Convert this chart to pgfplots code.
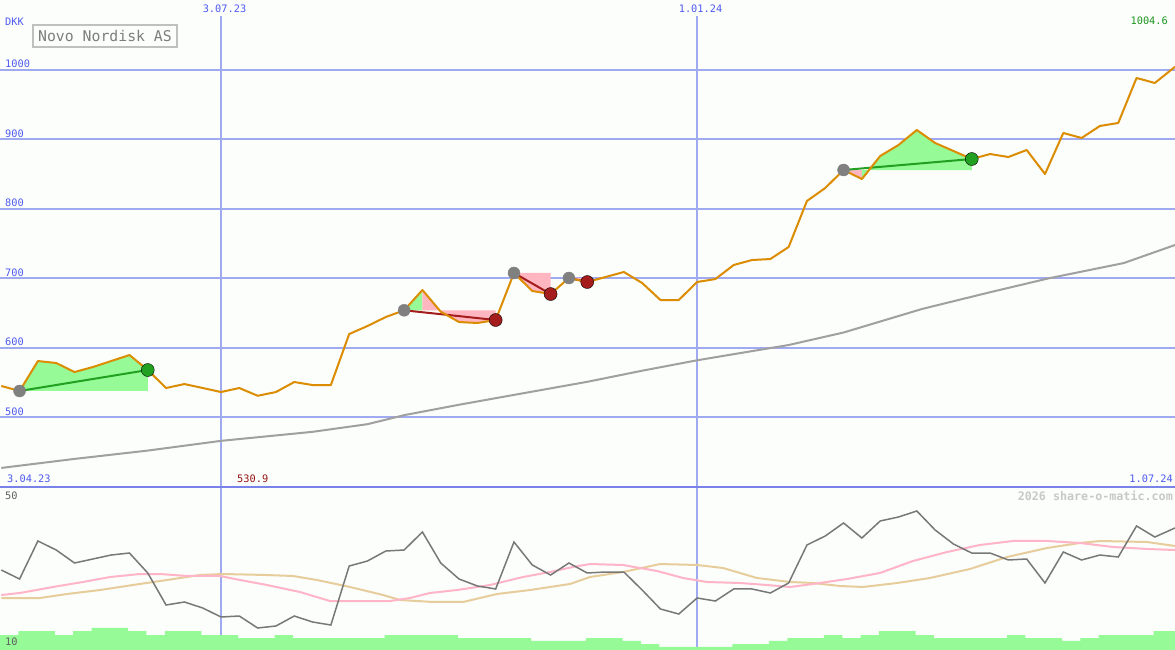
\documentclass[border=0pt]{standalone}
\usepackage{fontspec}
\usepackage{pgfplots}
\pgfplotsset{compat=1.18}
\setmainfont{DejaVu Sans Mono}
\newfontfamily\mono{DejaVu Sans Mono}
\definecolor{bg}{RGB}{251,254,251}
\definecolor{gridb}{RGB}{160,170,240}
\definecolor{sepb}{RGB}{120,130,232}
\definecolor{lblb}{RGB}{80,90,240}
\definecolor{pricec}{RGB}{220,140,0}
\definecolor{mac}{RGB}{160,160,160}
\definecolor{fgreen}{RGB}{150,250,150}
\definecolor{fpink}{RGB}{255,182,193}
\definecolor{lgreen}{RGB}{34,160,34}
\definecolor{lred}{RGB}{165,28,28}
\definecolor{dgray}{RGB}{128,128,128}
\definecolor{oscc}{RGB}{120,120,120}
\definecolor{opink}{RGB}{255,180,200}
\definecolor{otan}{RGB}{230,205,155}
\definecolor{wm}{RGB}{200,200,200}
\definecolor{boxg}{RGB}{192,192,192}
\definecolor{ttlg}{RGB}{125,125,125}
\definecolor{valg}{RGB}{30,150,30}
\definecolor{minr}{RGB}{150,20,20}
\definecolor{lowg}{RGB}{95,95,95}
\pgfplotsset{panel/.style={scale only axis, width=1175pt, xmin=-0.07, xmax=64.1,
  axis line style={draw=none}, xtick=\empty, major tick length=0pt,
  yticklabels={}, clip=true, anchor=south west}}
\begin{document}
\begin{tikzpicture}
\fill[bg] (0pt,0pt) rectangle (1175pt,650pt);
% ---------------- upper panel ----------------
\begin{axis}[panel, at={(0pt,163pt)}, height=487pt, ymin=399.56, ymax=1100.8,
  ytick={500,600,700,800,900,1000}, ymajorgrids, major grid style={gridb, line width=2pt}]
\draw[gridb, line width=1.2pt] (axis cs:12,399.56) -- (axis cs:12,1077.8);
\draw[gridb, line width=1.2pt] (axis cs:38,399.56) -- (axis cs:38,1077.8);
% moving average
\addplot[mac, line width=2pt] coordinates {
(0,427) (4,440) (8,452) (12,466) (17,479) (20,490) (22,503) (25,518) (28.6,535)
(32,551) (35,567) (38,582) (43,604) (46,622) (50.3,656) (54,680) (57.2,700) (61.3,722) (64.1,748)};
% trade fills
\addplot[fill=fgreen, draw=none] coordinates {(1,537.8) (2,580.9) (3,578.1) (4,565.1) (5,572.3) (6,580.9) (7,589.6) (8,568.0) (8,537.8)} --cycle;
\addplot[fill=fgreen, draw=none] coordinates {(22,654.0) (23,683.2) (23,654.0)} --cycle;
\addplot[fill=fpink, draw=none] coordinates {(23,654.0) (23,683.2) (24,652.0) (25,637.1) (26,635.7) (27,640.0) (27,654.0)} --cycle;
\addplot[fill=fpink, draw=none] coordinates {(28,707.7) (29,681.8) (30,677.4) (30,707.7)} --cycle;
\addplot[fill=fpink, draw=none] coordinates {(31,700.5) (32,694.7) (32,700.5)} --cycle;
\addplot[fill=fpink, draw=none] coordinates {(46,856.0) (47,843.0) (47,856.0)} --cycle;
\addplot[fill=fgreen, draw=none] coordinates {(47,856.0) (47,843.0) (48,876.2) (49,892.0) (50,913.6) (51,894.9) (52,883.4) (53,871.8) (53,856.0)} --cycle;
% trade lines
\addplot[lgreen, line width=2pt] coordinates {(1,537.8) (8,568.0)};
\addplot[lred, line width=2pt] coordinates {(22,654.0) (27,640.0)};
\addplot[lred, line width=2pt] coordinates {(28,707.7) (30,677.4)};
\addplot[lred, line width=2pt] coordinates {(31,700.5) (32,694.7)};
\addplot[lgreen, line width=2pt] coordinates {(46,856.0) (53,871.8)};
% dots
\addplot[only marks, mark=*, mark size=6pt, dgray, mark options={draw=none, fill=dgray}] coordinates {(1,537.8) (22,654.0) (28,707.7) (31,700.5) (46,856.0)};
\addplot[only marks, mark=*, mark size=6.5pt, mark options={draw=none, fill=lgreen}] coordinates {(8,568.0) (53,871.8)};
\addplot[only marks, mark=*, mark size=6.5pt, mark options={draw=none, fill=lred}] coordinates {(27,640.0) (30,677.4) (32,694.7)};
% price
\addplot[pricec, line width=2pt, line join=round] coordinates {
(0,545.0) (1,537.8) (2,580.9) (3,578.1) (4,565.1) (5,572.3) (6,580.9) (7,589.6) (8,568.0) (9,542.1)
(10,547.8) (11,542.1) (12,536.3) (13,542.1) (14,530.9) (15,536.3) (16,550.7) (17,546.4) (18,546.4) (19,619.8)
(20,631.4) (21,644.3) (22,654.0) (23,683.2) (24,652.0) (25,637.1) (26,635.7) (27,640.0) (28,707.7) (29,681.8)
(30,677.4) (31,700.5) (32,694.7) (33,701.9) (34,709.1) (35,693.3) (36,668.8) (37,668.8) (38,694.7) (39,699.0)
(40,719.2) (41,726.4) (42,727.8) (43,745.1) (44,811.4) (45,830.1) (46,856.0) (47,843.0) (48,876.2) (49,892.0)
(50,913.6) (51,894.9) (52,883.4) (53,871.8) (54,879.0) (55,874.7) (56,884.8) (57,850.2) (58,909.3) (59,902.1)
(60,919.4) (61,923.7) (62,988.5) (63,981.3) (64.1,1004.6)};
\end{axis}
% ---------------- lower panel ----------------
\begin{axis}[panel, at={(0pt,0pt)}, height=163pt, ymin=10, ymax=50, ytick=\empty]
\draw[gridb, line width=1.2pt] (axis cs:12,10) -- (axis cs:12,50);
\draw[gridb, line width=1.2pt] (axis cs:38,10) -- (axis cs:38,50);
\addplot[const plot, fill=fgreen, draw=none] coordinates {
(-0.07,13.68) (0.93,14.66) (1.93,14.66) (2.93,13.68) (3.93,14.66) (4.93,15.40) (5.93,15.40) (6.93,14.66) (7.93,13.68) (8.93,14.66)
(9.93,14.66) (10.93,13.68) (11.93,13.68) (12.93,12.94) (13.93,12.94) (14.93,13.68) (15.93,12.94) (16.93,12.94) (17.93,12.94) (18.93,12.94)
(19.93,12.94) (20.93,13.68) (21.93,13.68) (22.93,13.68) (23.93,13.68) (24.93,12.94) (25.93,12.94) (26.93,12.94) (27.93,12.94) (28.93,12.21)
(29.93,12.21) (30.93,12.21) (31.93,12.94) (32.93,12.94) (33.93,12.21) (34.93,11.47) (35.93,10.74) (36.93,10.74) (37.93,10.74) (38.93,10.74)
(39.93,11.47) (40.93,11.47) (41.93,12.21) (42.93,12.94) (43.93,12.94) (44.93,13.68) (45.93,12.94) (46.93,13.68) (47.93,14.66) (48.93,14.66)
(49.93,13.68) (50.93,12.94) (51.93,12.94) (52.93,12.94) (53.93,12.94) (54.93,13.68) (55.93,12.94) (56.93,12.94) (57.93,12.21) (58.93,12.94)
(59.93,13.68) (60.93,13.68) (61.93,13.68) (62.93,14.66) (64.1,14.66)} \closedcycle;
\addplot[otan, line width=2pt] coordinates {
(0,22.76) (2.11,22.76) (3.59,23.74) (5.39,24.72) (7.19,25.95) (9.05,27.18) (10.85,28.40) (12.11,28.65) (14.51,28.40) (15.93,28.16)
(17.24,27.18) (19.04,25.46) (20.85,23.50) (21.78,22.27) (23.58,21.78) (25.22,21.78) (27.07,23.74) (28.88,24.72) (31.06,26.20) (32.15,27.91)
(33.95,29.14) (35.98,31.10) (38.00,30.86) (39.42,30.12) (41.27,27.67) (43.08,26.69) (44.33,26.44) (45.80,25.71) (47.06,25.46) (48.92,26.44)
(50.72,27.67) (52.90,29.88) (54.93,32.82) (57.11,35.03) (58.91,36.26) (60.01,36.75) (62.57,36.50) (64.10,35.52)};
\addplot[opink, line width=2pt] coordinates {
(0,23.50) (1.02,23.99) (2.82,25.46) (4.46,26.69) (5.94,27.91) (7.58,28.65) (8.67,28.65) (10.14,28.16) (11.94,28.16) (13.04,27.18)
(14.51,25.95) (16.31,24.23) (17.95,22.02) (19.21,22.02) (21.23,22.02) (22.32,22.76) (23.41,23.99) (24.89,24.72) (26.69,25.95) (28.49,27.91)
(29.97,29.14) (31.22,30.37) (32.15,31.10) (33.95,30.86) (35.81,29.39) (37.23,27.67) (38.54,26.69) (40.34,26.44) (41.82,25.95) (43.08,25.46)
(44.33,26.20) (46.19,27.42) (47.99,28.90) (49.79,31.84) (51.65,34.05) (53.45,35.77) (55.25,36.75) (57.11,36.75) (58.91,36.26) (60.72,35.28)
(62.57,34.79) (64.10,34.54)};
\addplot[oscc, line width=1.5pt] coordinates {
(0,29.63) (1,27.42) (2,36.75) (3,34.54) (4,31.35) (5,32.33) (6,33.31) (7,33.80) (8,28.90) (9,21.04)
(10,21.78) (11,20.31) (12,18.10) (13,18.34) (14,15.40) (15,15.89) (16,18.34) (17,16.87) (18,16.13) (19,30.61)
(20,31.84) (21,34.29) (22,34.54) (23,38.96) (24,31.35) (25,27.42) (26,25.71) (27,24.97) (28,36.50) (29,30.86)
(30,28.40) (31,31.35) (32,28.90) (33,29.14) (34,29.14) (35,24.72) (36,20.06) (37,18.83) (38,22.76) (39,22.02)
(40,24.97) (41,24.97) (42,23.99) (43,26.44) (44,35.77) (45,37.98) (46,41.17) (47,37.48) (48,41.66) (49,42.64)
(50,44.11) (51,39.45) (52,36.01) (53,33.80) (54,33.80) (55,32.09) (56,32.33) (57,26.44) (58,34.05) (59,32.09)
(60,33.31) (61,32.82) (62,40.43) (63,37.73) (64.1,39.94)};
\end{axis}
\draw[sepb, line width=2pt] (0pt,163pt) -- (1175pt,163pt);
% ---------------- texts ----------------
\begin{scope}[every node/.style={inner sep=0pt, font=\mono\fontsize{10.3}{12}\selectfont}]
\node[anchor=west, text=lblb] at (5pt,628.5pt) {DKK};
\node[anchor=west, text=lblb] at (5pt,586pt) {1000};
\node[anchor=west, text=lblb] at (5pt,516.5pt) {900};
\node[anchor=west, text=lblb] at (5pt,447pt) {800};
\node[anchor=west, text=lblb] at (5pt,377.5pt) {700};
\node[anchor=west, text=lblb] at (5pt,308pt) {600};
\node[anchor=west, text=lblb] at (5pt,238.5pt) {500};
\node[text=lblb] at (224.5pt,641pt) {3.07.23};
\node[text=lblb] at (700.5pt,641pt) {1.01.24};
\node[anchor=east, text=valg] at (1168pt,629pt) {1004.6};
\node[anchor=west, text=lblb] at (7pt,171.5pt) {3.04.23};
\node[anchor=west, text=minr] at (237pt,171.5pt) {530.9};
\node[anchor=east, text=lblb] at (1173pt,171.5pt) {1.07.24};
\node[anchor=west, text=lowg] at (5pt,154pt) {50};
\node[anchor=west, text=lowg] at (5pt,8pt) {10};
\node[anchor=east, text=wm, font=\mono\bfseries\fontsize{11.7}{13}\selectfont] at (1173pt,154pt) {2026 share-o-matic.com};
\end{scope}
\node[draw=boxg, line width=2pt, fill=bg, text=ttlg, inner sep=0pt, minimum width=144pt, minimum height=22pt,
  font=\mono\fontsize{14.8}{16}\selectfont] at (105pt,614pt) {Novo Nordisk AS};
\pgfresetboundingbox
\path[use as bounding box] (0pt,0pt) rectangle (1175pt,650pt);
\end{tikzpicture}
\end{document}
